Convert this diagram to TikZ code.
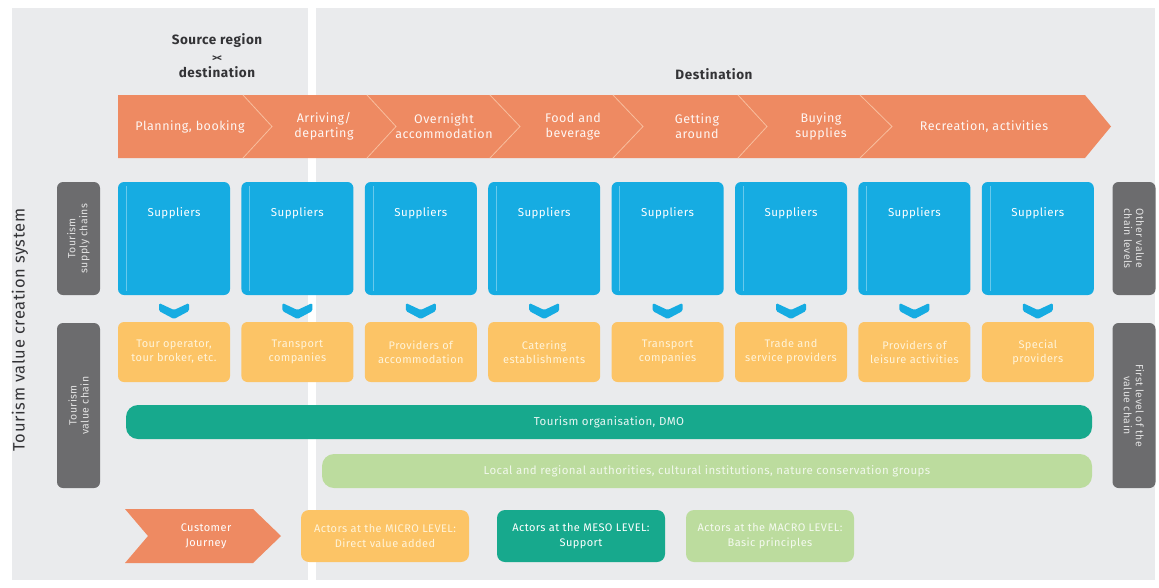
\documentclass[tikz,border=0pt]{standalone}
\usepackage{fontspec}
\setmainfont{Fira Sans}[LetterSpace=4]
\definecolor{bgc}{HTML}{EAEBED}
\definecolor{orng}{HTML}{EE8A62}
\definecolor{orngl}{HTML}{F8BE9E}
\definecolor{blu}{HTML}{16ACE2}
\definecolor{ylw}{HTML}{FCC466}
\definecolor{tealc}{HTML}{17A98D}
\definecolor{lgrn}{HTML}{BCDC9E}
\definecolor{dgry}{HTML}{6C6C6E}
\definecolor{txtd}{HTML}{333336}
\definecolor{ylwtxt}{HTML}{FFF4DA}
\begin{document}
\begin{tikzpicture}[x=1pt,y=-1pt,
  every node/.style={inner sep=0pt, outer sep=0pt},
  steplabel/.style={text=white!92!orng, font=\fontsize{12.5}{15}\selectfont, align=center},
  supbox/.style={fill=blu, rounded corners=6pt, minimum width=112pt, minimum height=113pt, anchor=north west},
  suptxt/.style={text=white, font=\fontsize{11.5}{13}\selectfont},
  actbox/.style={fill=ylw, rounded corners=6pt, minimum width=112pt, minimum height=60pt, anchor=north west,
     text=ylwtxt, font=\fontsize{11}{14}\selectfont, align=center},
  tabbox/.style={fill=dgry, rounded corners=6pt, minimum width=43pt},
  tabtxt/.style={text=white!80!dgry, font=\fontsize{10.5}{12}\selectfont, align=center},
  barbox/.style={rounded corners=12pt, minimum height=34pt, font=\fontsize{11.5}{13}\selectfont},
  legbox/.style={rounded corners=8pt, minimum width=168pt, minimum height=52pt, text=white,
     font=\fontsize{11}{15}\selectfont, align=center},
  heading/.style={text=txtd, font=\bfseries\fontsize{13.5}{15}\selectfont, align=center}
]
\useasboundingbox (0,0) rectangle (1159,587);
\fill[white] (0,0) rectangle (1159,587);
% panels
\fill[bgc] (12,8) rectangle (308,580);
\fill[bgc] (316,8) rectangle (1155,580);

% headings
\node[heading, font=\bfseries\fontsize{13.5}{16.5}\selectfont] (src) at (217,56) {Source region\\{\fontsize{10}{10}\selectfont >\kern-0.5pt<}\\destination};
\node[heading] (dest) at (714,74) {Destination};
\node[heading, rotate=90, font=\fontsize{16.5}{18}\selectfont] (sys) at (20,330) {Tourism value creation system};

% top band
\fill[orng] (118,95) -- (1085,95) -- (1111,126.5) -- (1085,158) -- (118,158) -- cycle;
\foreach \x/\t in {243/272,367/396,490/520,613/643,738/767,860/892}{
  \draw[orngl, line width=0.8pt] (\x,95) -- (\t,126.5) -- (\x,158);
}
\node[steplabel] (s1) at (190,126.5) {Planning, booking};
\node[steplabel] (s2) at (324,126.5) {Arriving/\\departing};
\node[steplabel] (s3) at (444,126.5) {Overnight\\accommodation};
\node[steplabel] (s4) at (573,126.5) {Food and\\beverage};
\node[steplabel] (s5) at (697,126.5) {Getting\\around};
\node[steplabel] (s6) at (821,126.5) {Buying\\supplies};
\node[steplabel] (s7) at (984,126.5) {Recreation, activities};

% side tabs
\node[tabbox, minimum height=113pt] (tl1) at (78.5,238.5) {};
\node[tabtxt, rotate=90] (tl1t) at (tl1.center) {Tourism\\supply chains};
\node[tabbox, minimum height=165pt] (tl2) at (78.5,405.5) {};
\node[tabtxt, rotate=90] (tl2t) at (tl2.center) {Tourism\\value chain};
\node[tabbox, minimum height=113pt] (tr1) at (1134,238.5) {};
\node[tabtxt, rotate=-90] (tr1t) at (tr1.center) {Other value\\chain levels};
\node[tabbox, minimum height=165pt] (tr2) at (1134,405.5) {};
\node[tabtxt, rotate=-90] (tr2t) at (tr2.center) {First level of the\\value chain};

% supplier boxes, chevrons, actor boxes
\foreach \i/\a in {1/{Tour operator,\\tour broker, etc.},2/{Transport\\companies},3/{Providers of\\accommodation},4/{Catering\\establishments},5/{Transport\\companies},6/{Trade and\\service providers},7/{Providers of\\leisure activities},8/{Special\\providers}}{
  \pgfmathsetmacro{\xl}{118+123.4*(\i-1)}
  \node[supbox] (b\i) at (\xl,182) {};
  \draw[white!35!blu, line width=0.6pt] ([xshift=8pt,yshift=-4pt]b\i.north west) -- ([xshift=8pt,yshift=4pt]b\i.south west);
  \node[suptxt] (bt\i) at ([yshift=-31pt]b\i.north) {Suppliers};
  \fill[blu, rounded corners=1.5pt] ([xshift=-15pt,yshift=-8pt]b\i.south) -- ([yshift=-15pt]b\i.south) -- ([xshift=15pt,yshift=-8pt]b\i.south)
     -- ([xshift=15pt,yshift=-16pt]b\i.south) -- ([yshift=-24pt]b\i.south) -- ([xshift=-15pt,yshift=-16pt]b\i.south) -- cycle;
  \node[actbox] (y\i) at (\xl,322) {\a};
}

% bars
\node[barbox, fill=tealc, minimum width=966pt, text=white!90!tealc] (dmo) at (609,422) {Tourism organisation, DMO};
\node[barbox, fill=lgrn, minimum width=770pt, text=white!80!lgrn] (auth) at (707,471) {Local and regional authorities, cultural institutions, nature conservation groups};

% legend
\fill[orng] (125,509) -- (253,509) -- (281,536) -- (253,563) -- (125,563) -- (148,536) -- cycle;
\node[text=white, font=\fontsize{11}{15}\selectfont, align=center] (cj) at (206,536) {Customer\\Journey};
\node[legbox, fill=ylw, text=ylwtxt] (lm) at (385,536) {Actors at the MICRO LEVEL:\\Direct value added};
\node[legbox, fill=tealc] (lme) at (581,536) {Actors at the MESO LEVEL:\\Support};
\node[legbox, fill=lgrn, text=white!85!lgrn] (lma) at (770,536) {Actors at the MACRO LEVEL:\\Basic principles};
\end{tikzpicture}
\end{document}
